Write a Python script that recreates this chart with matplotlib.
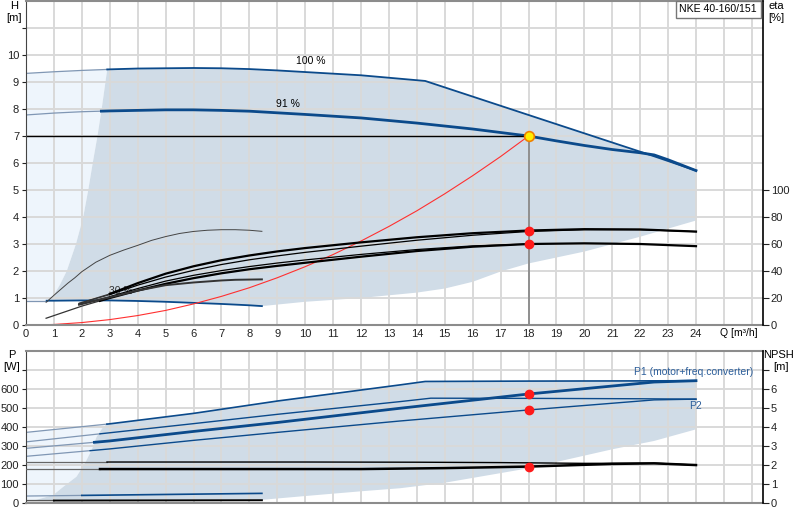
import numpy as np
import matplotlib
matplotlib.use('Agg')
import matplotlib.pyplot as plt

plt.rcParams['font.family'] = ['Liberation Sans', 'DejaVu Sans']
plt.rcParams['font.size'] = 8

# --- данные: верхний график (напор H, м) ---
q_100 = [0, 1, 2, 3, 4, 5, 6, 7, 8, 9, 10, 12, 14.3, 18, 22.5, 24]
h_100 = [9.32, 9.38, 9.43, 9.47, 9.5, 9.51, 9.52, 9.51, 9.48, 9.43, 9.37, 9.25, 9.04, 7.78, 6.25, 5.72]

q_91 = [0, 1, 2, 3, 4, 5, 6, 7, 8, 9, 10, 12, 14, 16, 18, 19, 20, 21, 22, 22.5, 23, 24]
h_91 = [7.78, 7.85, 7.9, 7.93, 7.95, 7.97, 7.97, 7.95, 7.92, 7.86, 7.8, 7.67, 7.48, 7.26, 7.0, 6.82,
        6.65, 6.5, 6.38, 6.3, 6.12, 5.72]

q_30 = [0, 1, 2, 3, 4, 5, 6, 7, 8, 8.45]
h_30 = [0.9, 0.9, 0.91, 0.91, 0.89, 0.86, 0.82, 0.78, 0.73, 0.7]

# границы закрашенной области
q_left = [0.74, 0.92, 1.22, 1.46, 1.79, 2.05, 2.23, 2.39, 2.56, 2.71, 2.91]
h_left = [0.9, 0.98, 1.5, 2.0, 3.0, 4.0, 5.0, 6.0, 7.0, 8.0, 9.47]
q_low = [8.45, 10, 12, 14, 15, 16, 17, 18, 20, 22, 24]
h_low = [0.7, 0.86, 1.0, 1.2, 1.35, 1.6, 1.98, 2.28, 2.72, 3.27, 3.87]

# характеристика системы
q_sys = [0.2, 1, 2, 3, 4, 5, 6, 7, 8, 9, 10, 11, 12, 13, 14, 15, 16, 17, 18]
h_sys = [0, 0.02, 0.09, 0.2, 0.35, 0.54, 0.78, 1.06, 1.38, 1.75, 2.16, 2.61, 3.11, 3.65, 4.23,
         4.86, 5.53, 6.24, 7.0]

# КПД, %
q_eta1 = [1.9, 3, 4, 5, 6, 7, 8, 9, 10, 12, 14, 16, 18, 20, 22, 24]
eta1 = [16, 23, 31, 38, 43.5, 48, 51.5, 54.5, 57, 61.2, 65, 68, 70, 71, 70.8, 69.2]
q_eta2 = [1.9, 3, 4, 5, 6, 7, 8, 9, 10, 12, 14, 16, 18, 20, 22, 24]
eta2 = [16, 22.5, 29.5, 35.5, 40.5, 44.8, 48.3, 51.2, 53.8, 58.4, 62.8, 66.5, 69.3, 70.6, 70.6, 69.2]
q_eta3 = [0.72, 2, 3, 4, 5, 6, 7, 8, 9, 10, 12, 14, 16, 18, 20, 22, 24]
eta3 = [5, 14, 20, 25.5, 30.5, 34.7, 38.3, 41.3, 43.8, 46.1, 50.6, 54.8, 58, 60, 60.5, 60, 58.4]
q_eta4 = [1.9, 3, 4, 5, 6, 7, 8, 9, 10, 12, 14, 16, 18]
eta4 = [15.5, 21, 27, 32.5, 36.8, 40.3, 43.3, 45.9, 48.2, 52.3, 55.9, 58.6, 60]
q_eta5 = [1.9, 3, 4, 5, 6, 7, 7.5, 8.45]
eta5 = [15, 20.5, 25.5, 29.5, 31.5, 33, 33.5, 33.8]
q_eta6 = [0.72, 1, 1.25, 1.5, 1.75, 2, 2.25, 2.5, 3, 3.5, 4, 4.5, 5, 5.5, 6, 6.5, 7, 7.5, 8, 8.45]
eta6 = [16.8, 22, 26.5, 31, 35, 39.5, 43, 46.5, 51.6, 55.5, 59, 62.7, 65.5, 67.8, 69.3, 70.2, 70.6,
        70.6, 70.2, 69.4]

# рабочая точка
q_op = 18
h_op = 7.0
eta_op = [70, 60]

# --- данные: нижний график (мощность P, Вт; NPSH, м) ---
q_p1max = [0, 3, 6, 9, 13.4, 14.3, 18, 22, 24]
p_p1max = [370, 415, 470, 535, 620, 638, 640, 641, 642]
q_p2max = [0, 3, 6, 9, 13.4, 14.5, 18, 22, 24]
p_p2max = [320, 368, 416, 465, 532, 550, 549, 547, 545]
q_p1 = [0, 3, 6, 9, 13.4, 18, 22.5, 24]
p_p1 = [286, 325, 375, 422, 497, 572, 635, 642]
q_p2 = [0, 3, 6, 9, 13.4, 18, 22.5, 24]
p_p2 = [244, 283, 328, 370, 430, 488, 541, 545]
q_pmin = [0, 8.45]
p_pmin = [35, 49]
q_pmin2 = [0, 8.45]
p_pmin2 = [11, 13]

q_npsh1 = [0, 5, 10, 14, 17, 20, 22.5, 24]
npsh1 = [2.14, 2.14, 2.14, 2.13, 2.11, 2.07, 2.08, 1.98]
q_npsh2 = [0, 3, 6, 9, 12, 15, 18, 21, 22.5, 24]
npsh2 = [1.77, 1.77, 1.77, 1.77, 1.77, 1.82, 1.9, 2.04, 2.07, 1.98]

q_pleft = [0.3, 0.97, 1.34, 1.81, 2.11, 2.35, 2.53, 2.75, 2.9]
p_pleft = [12, 40, 84, 137, 207, 277, 347, 395, 415]
q_plow = [8.45, 10, 12, 13.4, 15, 18, 21, 22.5, 24]
p_plow = [15, 35, 60, 76, 105, 181, 281, 325, 386]

p_op = [572, 488]
npsh_op = 1.9

x_ticks = list(range(0, 27))
x_labels = [str(v) if v <= 24 else '' for v in x_ticks]

DARK = '#0b4a8b'
LIGHT = '#8097b4'
GRID = '#d9d9d9'
FILL = '#d0dce7'
FILL_LIGHT = '#eef5fc'
LABEL_FS = 7.5


def split_plot(ax, q, v, qs, color, lw, lcolor=LIGHT, llw=0.9, **kw):
    # часть кривой слева от границы рисуем светлее
    q = np.asarray(q, float)
    v = np.asarray(v, float)
    vs = np.interp(qs, q, v)
    left = q < qs
    ax.plot(np.r_[q[left], qs], np.r_[v[left], vs], color=lcolor, lw=llw, **kw)
    ax.plot(np.r_[qs, q[~left]], np.r_[vs, v[~left]], color=color, lw=lw, **kw)


def style_axes(ax):
    ax.set_xlim(0, 26.4)
    ax.set_xticks(x_ticks)
    ax.grid(True, color=GRID, lw=1.4)
    for s in ['top', 'bottom']:
        ax.spines[s].set_color('#8c8c8c')
        ax.spines[s].set_linewidth(1.5)
    ax.spines['left'].set_color('#444444')
    ax.spines['right'].set_visible(False)
    ax.tick_params(axis='y', direction='out', length=3, width=0.8, pad=2, colors='#222222')


def style_twin(tw):
    for s in ['top', 'bottom', 'left']:
        tw.spines[s].set_visible(False)
    tw.spines['right'].set_color('black')
    tw.spines['right'].set_linewidth(1.2)
    tw.tick_params(axis='y', direction='out', length=4, width=0.8, pad=1.5, colors='#222222')


fig = plt.figure(figsize=(8, 5.2), dpi=100)

# ---------------- верхний график ----------------
ax = fig.add_axes([0.0325, 0.375, 0.92125, 0.623])
ax.set_ylim(0, 12)
ax.set_yticks(range(0, 12))
ax.set_yticklabels([str(v) for v in range(0, 11)] + [''])
style_axes(ax)

# светлая область слева
q100 = np.asarray(q_100, float)
h100 = np.asarray(h_100, float)
ql = np.asarray(q_left, float)
hl = np.asarray(h_left, float)
q30 = np.asarray(q_30, float)
h30 = np.asarray(h_30, float)
top_l = q100 < ql[-1]
poly_q = np.r_[0, ql, q100[top_l][::-1]]
poly_h = np.r_[np.interp(0, q30, h30), hl, h100[top_l][::-1]]
ax.fill(poly_q, poly_h, color=FILL_LIGHT, lw=0, zorder=0.8)

# основная закрашенная область
top_r = q100 > ql[-1]
low30 = (q30 > ql[0])
poly_q = np.r_[ql, q100[top_r], q_low[::-1], q30[low30][::-1]]
poly_h = np.r_[hl, h100[top_r], h_low[::-1], h30[low30][::-1]]
ax.fill(poly_q, poly_h, color=FILL, lw=0, zorder=0.9)

ax.text(3.4, 1.25, '30 %', ha='center', va='center', color='#333333', zorder=1.6,
        fontsize=LABEL_FS)

split_plot(ax, q_100, h_100, 2.91, DARK, 1.3)
split_plot(ax, q_91, h_91, 2.7, DARK, 2.0)
split_plot(ax, q_30, h_30, 0.74, DARK, 1.3)

ax.plot(q_sys, h_sys, color='#ff3030', lw=0.8)
ax.plot([0, q_op], [h_op, h_op], color='black', lw=1.0)
ax.plot([q_op, q_op], [0, h_op], color='#8a8a8a', lw=1.3)

ax.text(10.2, 9.78, '100 %', ha='center', va='center', fontsize=LABEL_FS)
ax.text(9.4, 8.2, '91 %', ha='center', va='center', fontsize=LABEL_FS)

ax.set_xticklabels(x_labels)
ax.tick_params(axis='x', length=0, pad=3, colors='#222222')
ax.annotate('Q [m³/h]', xy=(24.85, 0), xycoords=('data', 'axes fraction'),
            xytext=(0, -6), textcoords='offset points', ha='left', va='center',
            fontsize=LABEL_FS)

# ось КПД
axe = ax.twinx()
axe.set_ylim(0, 240)
axe.set_yticks(range(0, 101, 20))
style_twin(axe)

split_plot(axe, q_eta1, eta1, 3.0, 'black', 1.6, lcolor='#333333', llw=0.9)
split_plot(axe, q_eta2, eta2, 3.0, 'black', 0.9, lcolor='#333333', llw=0.8)
split_plot(axe, q_eta3, eta3, 2.65, 'black', 1.6, lcolor='#333333', llw=0.9)
split_plot(axe, q_eta4, eta4, 3.0, 'black', 0.9, lcolor='#333333', llw=0.8)
axe.plot(q_eta5, eta5, color='#333333', lw=1.4)
axe.plot(q_eta6, eta6, color='#444444', lw=0.7)

axe.plot([q_op, q_op], eta_op, 'o', color='#ff1a1a', ms=6, mec='#ff1a1a', zorder=5)
axe.plot([q_op], [h_op * 20], 'o', color='#ffee00', ms=7, mec='#f08000', mew=1.2, zorder=5)

# ---------------- нижний график ----------------
bx = fig.add_axes([0.0325, 0.0333, 0.92125, 0.2923])
bx.set_ylim(0, 800)
bx.set_yticks(range(0, 701, 100))
bx.set_yticklabels([str(v) for v in range(0, 601, 100)] + [''])
style_axes(bx)
bx.set_xticklabels([])
bx.tick_params(axis='x', length=0)

pq1 = np.asarray(q_p1max, float)
pp1 = np.asarray(p_p1max, float)
qpl = np.asarray(q_pleft, float)
ppl = np.asarray(p_pleft, float)

top_l = pq1 < qpl[-1]
poly_q = np.r_[0, qpl, pq1[top_l][::-1]]
poly_p = np.r_[p_pleft[0], ppl, pp1[top_l][::-1]]
bx.fill(poly_q, poly_p, color=FILL_LIGHT, lw=0, zorder=0.8)

top_r = pq1 > qpl[-1]
poly_q = np.r_[qpl, pq1[top_r], q_plow[::-1], qpl[0]]
poly_p = np.r_[ppl, pp1[top_r], p_plow[::-1], p_pmin2[0]]
bx.fill(poly_q, poly_p, color=FILL, lw=0, zorder=0.9)

split_plot(bx, q_p1max, p_p1max, 2.9, DARK, 1.2)
split_plot(bx, q_p2max, p_p2max, 2.65, DARK, 1.0)
split_plot(bx, q_p1, p_p1, 2.45, DARK, 2.0)
split_plot(bx, q_p2, p_p2, 2.3, DARK, 1.0)
split_plot(bx, q_pmin, p_pmin, 2.0, DARK, 1.2)
split_plot(bx, q_pmin2, p_pmin2, 1.0, 'black', 1.4, lcolor='#555555', llw=1.0)

bx.text(26.05, 688, 'P1 (motor+freq.converter)', ha='right', va='center', color='#2c5e9a',
        fontsize=LABEL_FS)
bx.text(24.0, 510, 'P2', ha='center', va='center', color='#2c5e9a', fontsize=LABEL_FS)

bx.plot([q_op, q_op], p_op, 'o', color='#ff1a1a', ms=6, mec='#ff1a1a', zorder=5)

# ось NPSH
bxn = bx.twinx()
bxn.set_ylim(0, 8)
bxn.set_yticks(range(0, 8))
bxn.set_yticklabels([str(v) for v in range(0, 7)] + [''])
style_twin(bxn)

split_plot(bxn, q_npsh1, npsh1, 2.9, 'black', 1.0, lcolor='#666666', llw=0.9)
split_plot(bxn, q_npsh2, npsh2, 2.65, 'black', 1.8, lcolor='#666666', llw=0.9)
bxn.plot([q_op], [npsh_op], 'o', color='#ff1a1a', ms=6, mec='#ff1a1a', zorder=5)

# подписи осей и название насоса
fig.text(757 / 800, 1 - 9.5 / 520, 'NKE 40-160/151', ha='right', va='center', fontsize=7.6,
         zorder=10, bbox=dict(boxstyle='square,pad=0.35', fc='white', ec='#777777', lw=1))
fig.text(14 / 800, 1 - 6 / 520, 'H', ha='center', va='center')
fig.text(14 / 800, 1 - 18 / 520, '[m]', ha='center', va='center')
fig.text(776 / 800, 1 - 6 / 520, 'eta', ha='center', va='center')
fig.text(776 / 800, 1 - 18 / 520, '[%]', ha='center', va='center')
fig.text(12 / 800, 1 - 355 / 520, 'P', ha='center', va='center')
fig.text(12 / 800, 1 - 367 / 520, '[W]', ha='center', va='center')
fig.text(779 / 800, 1 - 355 / 520, 'NPSH', ha='center', va='center')
fig.text(781 / 800, 1 - 367 / 520, '[m]', ha='center', va='center')

fig.savefig('out.png', dpi=100)
